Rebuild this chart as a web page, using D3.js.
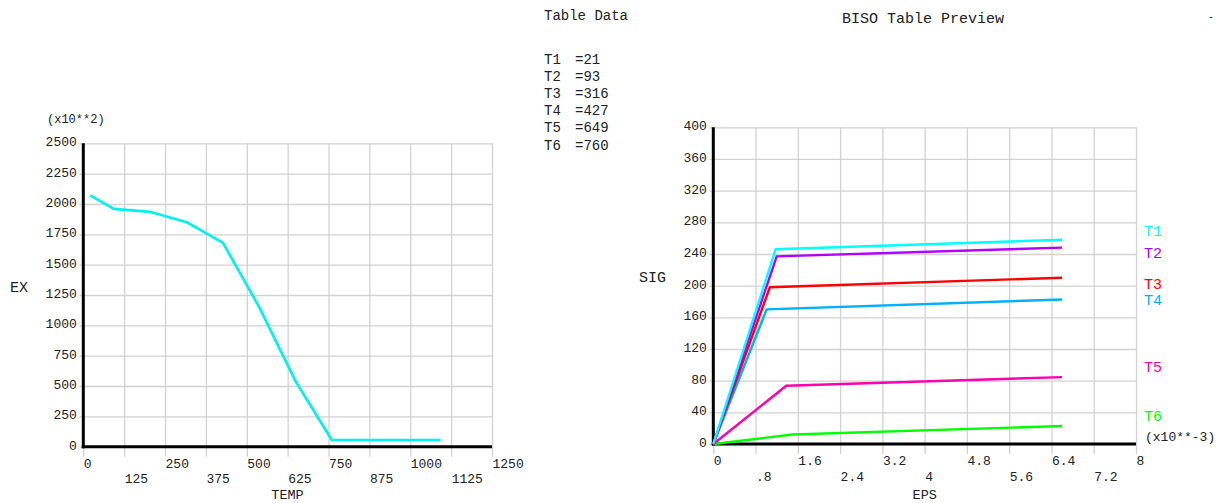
<!DOCTYPE html>
<html>
<head>
<meta charset="utf-8">
<script src="https://cdn.jsdelivr.net/npm/d3@7/dist/d3.min.js"></script>
<style>
  html, body { margin: 0; padding: 0; background: #fff; }
  svg { display: block; }
  text { font-family: "Liberation Mono", "DejaVu Sans Mono", monospace; fill: #222; }
  .tick line { stroke: #d2d2d2; stroke-width: 1.3; }
  .domain { display: none; }
</style>
</head>
<body>
<svg id="chart" width="1223" height="503"></svg>
<script>
// ---------- DATA ----------
// Left chart: EX vs TEMP
const temps = [21, 93, 204, 316, 427, 538, 649, 760, 871, 982, 1093];
const exValues = [2070, 1960, 1935, 1850, 1680, 1150, 540, 55, 55, 55, 55]; // (x10**2)
const tempTicks = [0, 125, 250, 375, 500, 625, 750, 875, 1000, 1125, 1250];
const exTicks = [0, 250, 500, 750, 1000, 1250, 1500, 1750, 2000, 2250, 2500];

// Table data
const tableNames = ["T1", "T2", "T3", "T4", "T5", "T6"];
const tableTemps = [21, 93, 316, 427, 649, 760];

// Right chart: SIG vs EPS (x10**-3), one bilinear curve per temperature
const epsT1 = [0, 1.18, 6.6], sigT1 = [0, 246, 258];
const epsT2 = [0, 1.2, 6.6],  sigT2 = [0, 237, 248];
const epsT3 = [0, 1.07, 6.6], sigT3 = [0, 198, 210];
const epsT4 = [0, 1.01, 6.6], sigT4 = [0, 170, 182.5];
const epsT5 = [0, 1.38, 6.6], sigT5 = [0, 73.5, 84.5];
const epsT6 = [0, 1.5, 6.6],  sigT6 = [0, 12, 22.7];
const epsTicks = [0, 0.8, 1.6, 2.4, 3.2, 4, 4.8, 5.6, 6.4, 7.2, 8];
const sigTicks = [0, 40, 80, 120, 160, 200, 240, 280, 320, 360, 400];

// ---------- STYLE / LAYOUT ----------
const seriesColors = ["#00ffff", "#b000ff", "#ff0000", "#00b0ff", "#ff00b0", "#00ff00"];
const labelNudge = [-4, 10, 11, 5, -5, -5]; // pixel nudges for T labels
const svg = d3.select("#chart");

function drawPanel(cfg) {
  const g = svg.append("g");
  const x = d3.scaleLinear().domain(cfg.xDomain).range([cfg.left, cfg.right]);
  const y = d3.scaleLinear().domain(cfg.yDomain).range([cfg.bottom, cfg.top]);
  const h = cfg.bottom - cfg.top, w = cfg.right - cfg.left;

  // vertical grid
  g.append("g").attr("transform", `translate(0,${cfg.bottom})`)
    .call(d3.axisBottom(x).tickValues(cfg.xTicks).tickSize(-h).tickFormat(""));
  // ticks below axis + labels (two rows, start-anchored)
  const xa = g.append("g").attr("transform", `translate(0,${cfg.bottom})`)
    .call(d3.axisBottom(x).tickValues(cfg.xTicks).tickSize(10).tickFormat(cfg.xFormat));
  xa.selectAll("text")
    .attr("text-anchor", "start")
    .attr("x", 0)
    .attr("dy", 0)
    .attr("y", (d, i) => i % 2 === 0 ? 21 : 36.5)
    .style("font-size", "13px");
  // horizontal grid (extend a little left of axis)
  const ya = g.append("g").attr("transform", `translate(${cfg.left},0)`)
    .call(d3.axisLeft(y).tickValues(cfg.yTicks).tickSize(-w).tickFormat(d3.format("d")));
  ya.selectAll(".tick line").attr("x1", -4);
  ya.selectAll("text")
    .attr("x", -6.5)
    .attr("dy", "0.19em")
    .attr("text-anchor", "end")
    .style("font-size", "13px");

  // black axes
  g.append("line").attr("x1", cfg.left).attr("x2", cfg.left)
    .attr("y1", cfg.top).attr("y2", cfg.bottom + 1.5)
    .attr("stroke", "#000").attr("stroke-width", 3);
  g.append("line").attr("x1", cfg.left - 1.5).attr("x2", cfg.right)
    .attr("y1", cfg.bottom).attr("y2", cfg.bottom)
    .attr("stroke", "#000").attr("stroke-width", 3);

  return { g, x, y };
}

// ---------- LEFT PANEL ----------
const L = drawPanel({
  xDomain: [0, 1250], yDomain: [0, 2500],
  left: 83.3, right: 492, top: 143.3, bottom: 446.7,
  xTicks: tempTicks, yTicks: exTicks, xFormat: d3.format("d")
});
const lineL = d3.line().x(d => L.x(d[0])).y(d => L.y(d[1]));
L.g.append("path")
  .datum(temps.map((t, i) => [t, exValues[i]]))
  .attr("d", lineL)
  .attr("fill", "none")
  .attr("stroke", "#00f0f0")
  .attr("stroke-width", 2.6)
  .attr("stroke-linejoin", "round");

svg.append("text").attr("x", 47).attr("y", 123).style("font-size", "12px").text("(x10**2)");
svg.append("text").attr("x", 10).attr("y", 292).style("font-size", "15px").text("EX");
svg.append("text").attr("x", 287.5).attr("y", 498.5).attr("text-anchor", "middle")
  .style("font-size", "13.5px").text("TEMP");

// ---------- TABLE DATA ----------
svg.append("text").attr("x", 544).attr("y", 20).style("font-size", "14px").text("Table Data");
tableNames.forEach((n, i) => {
  svg.append("text").attr("x", 544).attr("y", 64 + i * 17.1).style("font-size", "14px").text(n);
  svg.append("text").attr("x", 575).attr("y", 64 + i * 17.1).style("font-size", "14px").text("=" + tableTemps[i]);
});

// ---------- RIGHT PANEL ----------
const R = drawPanel({
  xDomain: [0, 8], yDomain: [0, 400],
  left: 713.3, right: 1136, top: 127.3, bottom: 444,
  xTicks: epsTicks, yTicks: sigTicks,
  xFormat: d => String(d).replace(/^0\./, ".")
});
const seriesEps = [epsT1, epsT2, epsT3, epsT4, epsT5, epsT6];
const seriesSig = [sigT1, sigT2, sigT3, sigT4, sigT5, sigT6];
const lineR = d3.line().x(d => R.x(d[0])).y(d => R.y(d[1]));
for (let s = seriesEps.length - 1; s >= 0; s--) {
  R.g.append("path")
    .datum(seriesEps[s].map((e, i) => [e, seriesSig[s][i]]))
    .attr("d", lineR)
    .attr("fill", "none")
    .attr("stroke", seriesColors[s])
    .attr("stroke-width", 2.4);
}
tableNames.forEach((n, s) => {
  const endSig = seriesSig[s][seriesSig[s].length - 1];
  svg.append("text")
    .attr("x", 1144)
    .attr("y", R.y(endSig) + labelNudge[s])
    .style("font-size", "15px")
    .style("fill", seriesColors[s])
    .text(n);
});

svg.append("text").attr("x", 1145).attr("y", 441).style("font-size", "13px").text("(x10**-3)");
svg.append("text").attr("x", 639).attr("y", 282).style("font-size", "15px").text("SIG");
svg.append("text").attr("x", 924.7).attr("y", 498.5).attr("text-anchor", "middle")
  .style("font-size", "13.5px").text("EPS");
svg.append("text").attr("x", 842).attr("y", 23).style("font-size", "15px").text("BISO Table Preview");
svg.append("text").attr("x", 1208).attr("y", 20).style("font-size", "10px").text("-");
</script>
</body>
</html>
